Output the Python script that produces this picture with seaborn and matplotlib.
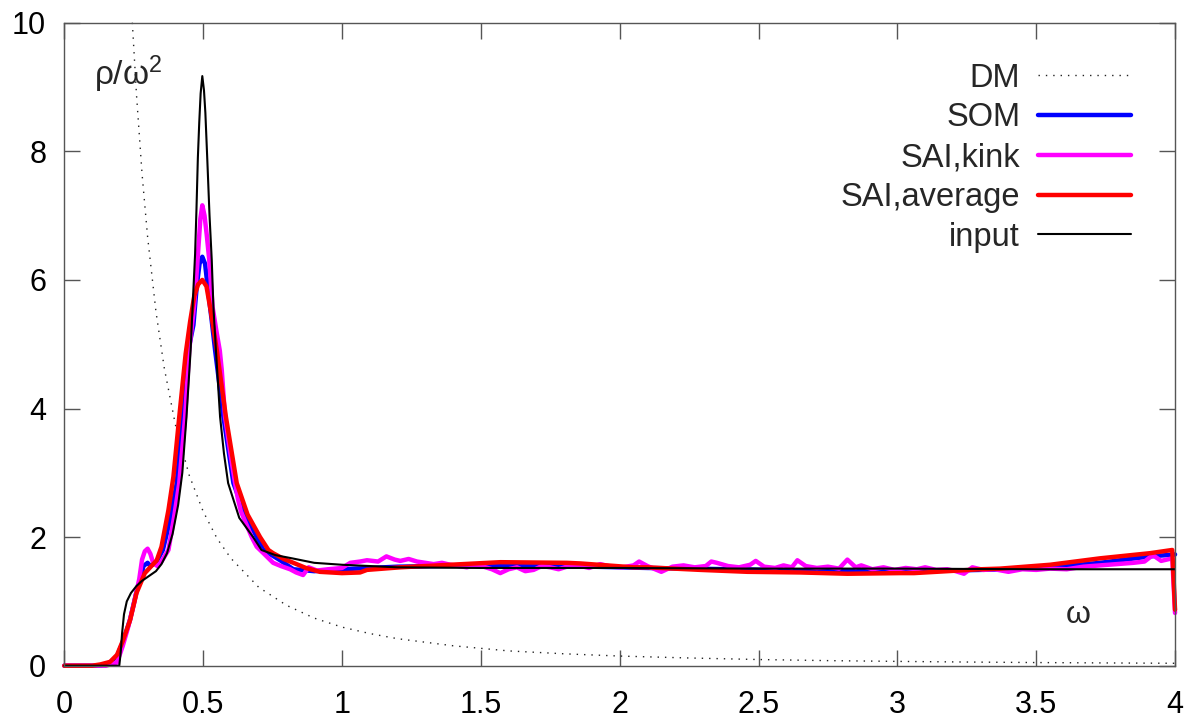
import matplotlib
matplotlib.use("Agg")
import matplotlib.pyplot as plt
import seaborn as sns
import pandas as pd

# ---------------- data ----------------
om_dm = [0.245, 0.26, 0.28, 0.30, 0.33, 0.36, 0.40, 0.45, 0.50, 0.55, 0.60, 0.70, 0.80,
         0.90, 1.00, 1.10, 1.20, 1.40, 1.60, 1.80, 2.00, 2.25, 2.50, 2.75, 3.00, 3.25,
         3.50, 3.75, 4.00]
dm = [10.0, 8.88, 7.65, 6.67, 5.51, 4.63, 3.75, 2.96, 2.40, 1.98, 1.67, 1.22, 0.94,
      0.74, 0.60, 0.50, 0.42, 0.31, 0.23, 0.185, 0.15, 0.12, 0.096, 0.079, 0.067, 0.057,
      0.049, 0.043, 0.0375]

om_som = [0, 0.13, 0.165, 0.19, 0.212, 0.237, 0.26, 0.275, 0.285, 0.30, 0.31, 0.33, 0.355,
          0.38, 0.405, 0.426, 0.447, 0.465, 0.477, 0.487, 0.497, 0.507, 0.519, 0.53, 0.543,
          0.573, 0.609, 0.65, 0.693, 0.717, 0.777, 0.825, 0.9, 1.0, 1.2, 1.5, 1.8, 2.1, 2.4,
          2.7, 3.0, 3.2, 3.4, 3.55, 3.73, 3.91, 4.0]
som = [0, 0, 0.05, 0.15, 0.38, 0.72, 1.15, 1.35, 1.55, 1.6, 1.55, 1.6, 1.8,
       2.25, 2.84, 3.87, 4.91, 5.3, 5.9, 6.25, 6.36, 6.25, 5.79, 5.4, 4.91,
       3.87, 2.84, 2.35, 2.0, 1.8, 1.64, 1.5, 1.47, 1.5, 1.54, 1.56, 1.55, 1.52, 1.5,
       1.48, 1.48, 1.48, 1.5, 1.53, 1.6, 1.7, 1.73]

om_kink = [0, 0.15, 0.19, 0.21, 0.23, 0.25, 0.27, 0.28, 0.29, 0.30, 0.31, 0.32, 0.335, 0.35,
           0.375, 0.395, 0.414, 0.435, 0.45, 0.467, 0.475, 0.483, 0.49, 0.497, 0.505, 0.513,
           0.522, 0.534, 0.548, 0.56, 0.567, 0.579, 0.598, 0.615, 0.625, 0.636, 0.675, 0.693,
           0.717, 0.752, 0.78, 0.813, 0.835, 0.86, 0.88, 0.91, 0.95, 1.0, 1.03, 1.065, 1.09,
           1.13, 1.16, 1.19, 1.21, 1.24, 1.27, 1.30, 1.33, 1.36, 1.39, 1.42, 1.45, 1.48, 1.51,
           1.54, 1.57, 1.60, 1.63, 1.66, 1.69, 1.72, 1.75, 1.78, 1.81, 1.85, 1.89, 1.93, 1.97,
           2.01, 2.05, 2.07, 2.10, 2.15, 2.19, 2.23, 2.27, 2.31, 2.33, 2.35, 2.39, 2.43, 2.47,
           2.49, 2.52, 2.56, 2.59, 2.62, 2.64, 2.67, 2.71, 2.75, 2.79, 2.82, 2.85, 2.87, 2.91,
           2.95, 2.99, 3.03, 3.07, 3.10, 3.14, 3.18, 3.21, 3.24, 3.27, 3.31, 3.35, 3.40, 3.45,
           3.50, 3.55, 3.61, 3.67, 3.73, 3.79, 3.85, 3.89, 3.92, 3.95, 3.99, 4.0]
kink = [0, 0, 0.05, 0.3, 0.6, 0.95, 1.35, 1.65, 1.78, 1.82, 1.74, 1.6, 1.55, 1.62,
        1.8, 2.3, 2.84, 3.87, 4.91, 5.58, 6.0, 6.5, 6.95, 7.16, 7.0, 6.7,
        6.31, 5.58, 5.2, 4.9, 4.6, 3.87, 3.3, 2.84, 2.6, 2.4, 2.0, 1.85,
        1.75, 1.6, 1.55, 1.5, 1.45, 1.41, 1.53, 1.48, 1.5, 1.52, 1.6, 1.62, 1.64,
        1.62, 1.7, 1.65, 1.63, 1.66, 1.62, 1.6, 1.58, 1.6, 1.57, 1.55, 1.53, 1.57, 1.54,
        1.5, 1.44, 1.5, 1.53, 1.47, 1.49, 1.55, 1.53, 1.5, 1.54, 1.56, 1.52, 1.58, 1.54,
        1.53, 1.56, 1.62, 1.55, 1.46, 1.54, 1.56, 1.53, 1.55, 1.62, 1.6, 1.55, 1.53, 1.57,
        1.63, 1.54, 1.52, 1.56, 1.53, 1.64, 1.55, 1.52, 1.54, 1.51, 1.65, 1.53, 1.56, 1.5,
        1.53, 1.49, 1.52, 1.5, 1.53, 1.49, 1.5, 1.47, 1.43, 1.53, 1.49, 1.5, 1.46, 1.5,
        1.49, 1.51, 1.5, 1.54, 1.56, 1.58, 1.6, 1.62, 1.72, 1.63, 1.67, 0.82]

om_avg = [0, 0.10, 0.13, 0.165, 0.19, 0.212, 0.237, 0.26, 0.29, 0.333, 0.35, 0.375, 0.393,
          0.414, 0.437, 0.453, 0.468, 0.482, 0.497, 0.512, 0.528, 0.549, 0.582, 0.621, 0.66,
          0.705, 0.735, 0.752, 0.79, 0.825, 0.87, 0.92, 1.0, 1.065, 1.09, 1.21, 1.39, 1.57,
          1.81, 1.86, 2.05, 2.1, 2.29, 2.46, 2.65, 2.82, 3.01, 3.06, 3.3, 3.37, 3.55, 3.73,
          3.91, 3.99, 4.0]
avg = [0, 0, 0.02, 0.06, 0.17, 0.4, 0.71, 1.13, 1.44, 1.64, 1.85, 2.42, 2.94,
       3.87, 4.85, 5.35, 5.75, 5.93, 6.0, 5.9, 5.5, 4.91, 3.87, 2.84, 2.35,
       2.0, 1.8, 1.75, 1.66, 1.6, 1.52, 1.46, 1.44, 1.45, 1.49, 1.53, 1.57, 1.61,
       1.6, 1.59, 1.53, 1.53, 1.49, 1.46, 1.45, 1.43, 1.44, 1.44, 1.5, 1.51, 1.57, 1.67,
       1.75, 1.8, 0.87]

om_in = [0, 0.198, 0.203, 0.208, 0.215, 0.225, 0.24, 0.26, 0.28, 0.30, 0.33, 0.35, 0.37,
         0.39, 0.41, 0.425, 0.44, 0.455, 0.462, 0.471, 0.476, 0.481, 0.486, 0.491, 0.497,
         0.503, 0.508, 0.515, 0.523, 0.531, 0.537, 0.546, 0.561, 0.575, 0.59, 0.63, 0.68,
         0.71, 0.76, 0.82, 0.90, 1.00, 1.20, 1.50, 2.00, 2.50, 3.00, 3.50, 4.00]
inp = [0, 0, 0.2, 0.5, 0.8, 1.0, 1.13, 1.24, 1.32, 1.38, 1.47, 1.58, 1.75,
       2.05, 2.5, 3.0, 3.87, 4.91, 5.58, 6.4, 7.1, 7.9, 8.45, 8.9, 9.17,
       8.95, 8.6, 7.87, 7.0, 6.31, 5.58, 4.91, 3.87, 3.3, 2.84, 2.3, 2.0,
       1.80, 1.72, 1.67, 1.6, 1.57, 1.53, 1.52, 1.52, 1.51, 1.51, 1.5, 1.5]

labels = ["DM", "SOM", "SAI,kink", "SAI,average", "input"]
x_ticks = [0, 0.5, 1, 1.5, 2, 2.5, 3, 3.5, 4]
x_ticklabels = ["0", "0.5", "1", "1.5", "2", "2.5", "3", "3.5", "4"]
y_ticks = [0, 2, 4, 6, 8, 10]

# ---------------- style ----------------
sns.set_theme(style="ticks")
plt.rcParams["font.family"] = ["Liberation Sans", "DejaVu Sans"]
plt.rcParams["axes.unicode_minus"] = False

fig = plt.figure(figsize=(11.9, 7.21), dpi=100)
ax = fig.add_axes([0.05403, 0.0767, 0.9334, 0.8918])

series = [
    (om_dm, dm, labels[0], dict(color="#222222", lw=1.0, linestyle=(0, (1, 4.3)))),
    (om_som, som, labels[1], dict(color="#0000ff", lw=3.2)),
    (om_kink, kink, labels[2], dict(color="#ff00ff", lw=3.2)),
    (om_avg, avg, labels[3], dict(color="#ff0000", lw=3.2)),
    (om_in, inp, labels[4], dict(color="black", lw=1.5)),
]
for xs, ys, lab, kw in series:
    df = pd.DataFrame({"omega": xs, "val": ys})
    sns.lineplot(data=df, x="omega", y="val", ax=ax, label=lab, sort=False,
                 estimator=None, clip_on=False, **kw)

ax.set_xlim(0, 4)
ax.set_ylim(0, 10)
ax.set_xticks(x_ticks)
ax.set_xticklabels(x_ticklabels)
ax.set_yticks(y_ticks)
ax.set_yticklabels([str(v) for v in y_ticks])
ax.set_xlabel("")
ax.set_ylabel("")

for sp in ax.spines.values():
    sp.set_visible(True)
    sp.set_color("#555555")
    sp.set_linewidth(1.0)

ax.tick_params(axis="both", direction="in", length=11.5, width=1.0, color="#555555",
               labelcolor="black", labelsize=22, top=True, right=True)
ax.tick_params(axis="x", pad=17.5)
ax.tick_params(axis="y", pad=13)

ax.text(0.23, 9.2, r"$\mathregular{\rho/\omega^2}$", fontsize=24, ha="center", va="center")
ax.text(3.65, 0.79, "ω", fontsize=23, ha="center", va="center")

leg = ax.legend(loc="upper right", bbox_to_anchor=(0.9604, 0.938), markerfirst=False,
                frameon=False, fontsize=23.5, handlelength=2.85, handletextpad=0.55,
                labelspacing=0.27, borderaxespad=0, borderpad=0)

fig.savefig("out.png", dpi=100)
